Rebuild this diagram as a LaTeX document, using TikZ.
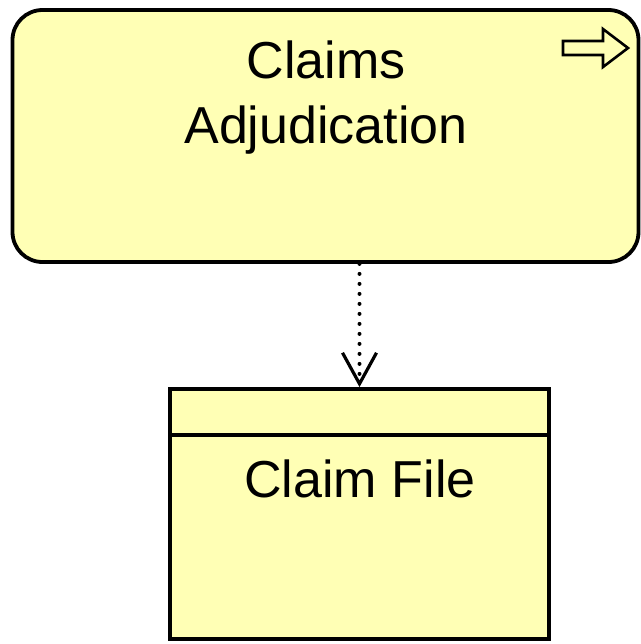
\documentclass[tikz,border=0pt]{standalone}
\usepackage{fontspec}
\setmainfont{Liberation Sans}
\usetikzlibrary{arrows.meta}
\definecolor{BizY}{RGB}{255,255,181}
\tikzset{
    BX1/.style ={rectangle,rounded corners=15pt,minimum width = 313pt, minimum height =126pt, draw, line width=1.9pt, fill=BizY},
    BX2/.style ={rectangle,minimum width = 189.5pt, minimum height =125pt, draw, line width=1.9pt, fill=BizY},
    TX/.style ={font=\fontsize{26}{32.5}\selectfont, align=center},
    DEP/.style ={line width=2pt, line cap=round, dash pattern=on 0pt off 5pt,
        -{Straight Barb[length=15.5pt,width=17pt,line width=1.6pt]}}}

\begin{document}
\begin{tikzpicture}[x=0.5pt,y=-0.5pt]
        \useasboundingbox (0,0) rectangle (641,644);
        \node[BX1] (adj) at (325.5,136){};
        \node[BX2] (file) at (359.5,514){};
        \draw[line width=1.9pt] ([yshift=-24pt]file.north west) -- ([yshift=-24pt]file.north east);
        \node[TX] (adjtxt) at (326,98){Claims\\Adjudication};
        \node[TX,anchor=base] (filetxt) at (360,497){Claim File};
        % process icon
        \draw[line width=1.3pt,line join=miter] (563,41) -- (603,41) -- (603,29) -- (628,48) -- (603,67) -- (603,55) -- (563,55) -- cycle;
        \draw[DEP] (file.north |- adj.south) -- (file.north);
    \end{tikzpicture}
\end{document}
